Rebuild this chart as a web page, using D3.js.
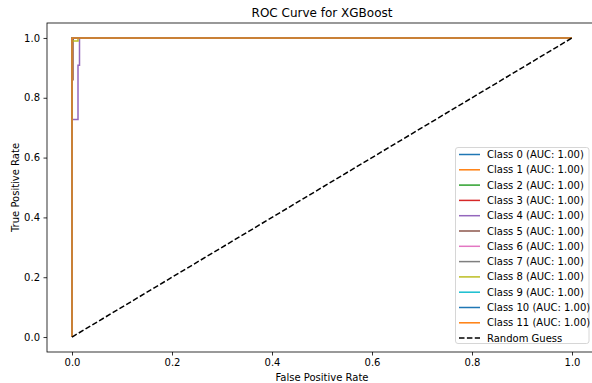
<!DOCTYPE html>
<html>
<head>
<meta charset="utf-8">
<script src="https://cdn.jsdelivr.net/npm/d3@7"></script>
<style>
  body { margin: 0; background: #fff; }
  svg { display: block; font-family: "DejaVu Sans", sans-serif; }
</style>
</head>
<body>
<svg id="chart" width="592" height="383"></svg>
<script>
// class names and their AUC values
const classes = ["Class 0", "Class 1", "Class 2", "Class 3", "Class 4", "Class 5",
  "Class 6", "Class 7", "Class 8", "Class 9", "Class 10", "Class 11"];
const aucs = [1.00, 1.00, 1.00, 1.00, 1.00, 1.00, 1.00, 1.00, 1.00, 1.00, 1.00, 1.00];

// ROC points per class: [fpr, tpr]
const curves = [
  [[0, 0], [0, 0.99], [0.002, 0.99], [0.002, 1], [1, 1]],
  [[0, 0], [0, 1], [1, 1]],
  [[0, 0], [0, 1], [1, 1]],
  [[0, 0], [0, 1], [1, 1]],
  [[0, 0], [0, 0.727], [0.012, 0.727], [0.012, 0.909], [0.015, 0.909], [0.015, 1], [1, 1]],
  [[0, 0], [0, 0.86], [0.002, 0.86], [0.002, 1], [1, 1]],
  [[0, 0], [0, 1], [1, 1]],
  [[0, 0], [0, 1], [1, 1]],
  [[0, 0], [0, 0.99], [0.012, 0.99], [0.012, 1], [1, 1]],
  [[0, 0], [0, 1], [1, 1]],
  [[0, 0], [0, 1], [1, 1]],
  [[0, 0], [0, 1], [1, 1]]
];
const randomGuess = [[0, 0], [1, 1]];

const xTicks = [0.0, 0.2, 0.4, 0.6, 0.8, 1.0];
const yTicks = [0.0, 0.2, 0.4, 0.6, 0.8, 1.0];

const colors = ["#1f77b4", "#ff7f0e", "#2ca02c", "#d62728", "#9467bd", "#8c564b",
  "#e377c2", "#7f7f7f", "#bcbd22", "#17becf"];

const plotLeft = 47, plotTop = 23, plotRight = 597, plotBottom = 352;

const svg = d3.select("#chart");

// scales
const x = d3.scaleLinear().domain([-0.05, 1.05]).range([plotLeft, plotRight]);
const y = d3.scaleLinear().domain([-0.05, 1.05]).range([plotBottom, plotTop]);

const line = d3.line().x(d => x(d[0])).y(d => y(d[1]));

// curves
svg.append("g")
  .selectAll("path")
  .data(curves)
  .join("path")
  .attr("d", line)
  .attr("fill", "none")
  .attr("stroke", (d, i) => colors[i % colors.length])
  .attr("stroke-width", 1.5);

svg.append("path")
  .datum(randomGuess)
  .attr("d", line)
  .attr("fill", "none")
  .attr("stroke", "#000")
  .attr("stroke-width", 1.5)
  .attr("stroke-dasharray", "5.5,2.4");

// axes
const xAxis = d3.axisBottom(x).tickValues(xTicks).tickFormat(d3.format(".1f")).tickSize(3.5).tickPadding(3.5);
svg.append("g")
  .attr("transform", `translate(0, ${plotBottom})`)
  .call(xAxis)
  .call(g => g.select(".domain").remove());

const yAxis = d3.axisLeft(y).tickValues(yTicks).tickFormat(d3.format(".1f")).tickSize(3.5).tickPadding(3.5);
svg.append("g")
  .attr("transform", `translate(${plotLeft}, 0)`)
  .call(yAxis)
  .call(g => g.select(".domain").remove());

svg.selectAll(".tick text").attr("font-size", 10).attr("fill", "#000").attr("font-family", "DejaVu Sans");
svg.selectAll(".tick line").attr("stroke", "#000").attr("stroke-width", 0.8);

// frame
svg.append("rect")
  .attr("x", plotLeft).attr("y", plotTop)
  .attr("width", plotRight - plotLeft).attr("height", plotBottom - plotTop)
  .attr("fill", "none").attr("stroke", "#000").attr("stroke-width", 0.8);

// title and labels
svg.append("text")
  .attr("x", (plotLeft + plotRight) / 2).attr("y", plotTop - 6)
  .attr("text-anchor", "middle").attr("font-size", 12)
  .text("ROC Curve for XGBoost");

svg.append("text")
  .attr("x", (plotLeft + plotRight) / 2).attr("y", 381)
  .attr("text-anchor", "middle").attr("font-size", 10)
  .text("False Positive Rate");

svg.append("text")
  .attr("transform", `translate(19, ${(plotTop + plotBottom) / 2}) rotate(-90)`)
  .attr("text-anchor", "middle").attr("font-size", 10)
  .text("True Positive Rate");

// legend
const legendItems = classes.map((c, i) => ({
  label: `${c} (AUC: ${aucs[i].toFixed(2)})`,
  color: colors[i % colors.length],
  dash: null
}));
legendItems.push({ label: "Random Guess", color: "#000", dash: "5.5,2.4" });

const legend = svg.append("g").attr("transform", "translate(455.5, 147.5)");
legend.append("rect")
  .attr("width", 133.5).attr("height", 196)
  .attr("rx", 2.5)
  .attr("fill", "#fff").attr("fill-opacity", 0.8)
  .attr("stroke", "#ccc").attr("stroke-width", 0.8);

const rows = legend.selectAll("g.row")
  .data(legendItems)
  .join("g")
  .attr("class", "row")
  .attr("transform", (d, i) => `translate(0, ${7 + i * 15.3})`);

rows.append("line")
  .attr("x1", 3.5).attr("x2", 24.5)
  .attr("stroke", d => d.color)
  .attr("stroke-width", 1.5)
  .attr("stroke-dasharray", d => d.dash);

rows.append("text")
  .attr("x", 31.5).attr("dy", "0.35em")
  .attr("font-size", 10)
  .text(d => d.label);
</script>
</body>
</html>
